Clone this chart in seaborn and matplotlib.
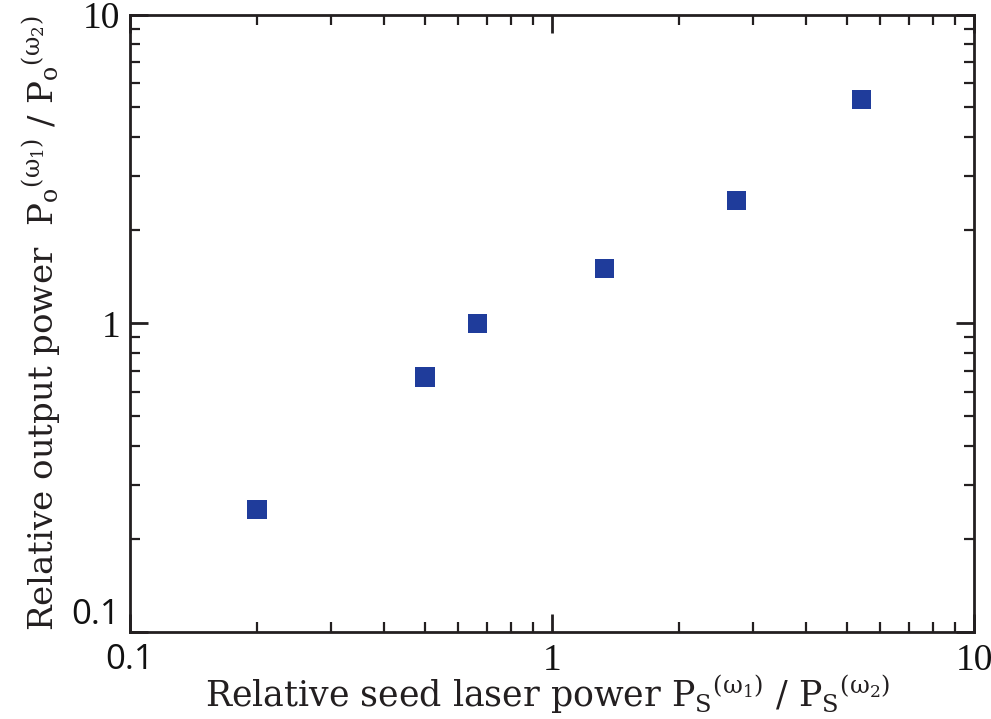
import matplotlib
matplotlib.use("Agg")
import matplotlib.pyplot as plt
import seaborn as sns
import pandas as pd
from matplotlib.ticker import LogLocator, NullFormatter, FixedLocator

# Measured ratios
seed_ratio = [0.2, 0.5, 0.667, 1.33, 2.73, 5.4]
output_ratio = [0.25, 0.67, 1.0, 1.5, 2.5, 5.3]
tick_values = [0.1, 1, 10]
tick_labels = ["0.1", "1", "10"]

sns.set_theme(style="white")
plt.rcParams["font.family"] = ["DejaVu Serif"]
plt.rcParams["mathtext.fontset"] = "custom"
plt.rcParams["mathtext.rm"] = "DejaVu Serif"
plt.rcParams["mathtext.it"] = "DejaVu Serif:italic"

df = pd.DataFrame({"seed": seed_ratio, "out": output_ratio})

fig = plt.figure(figsize=(9.91, 7.19), dpi=100)
ax = fig.add_axes([0.1312, 0.121, 0.8517, 0.8588])

sns.scatterplot(data=df, x="seed", y="out", marker="s", s=190,
                color="#1f3c9b", edgecolor="none", linewidth=0, ax=ax)

ax.set_xscale("log")
ax.set_yscale("log")
ax.set_xlim(0.1, 10)
ax.set_ylim(0.1, 10)

for axis in (ax.xaxis, ax.yaxis):
    axis.set_major_locator(FixedLocator(tick_values))
    axis.set_minor_locator(LogLocator(base=10, subs=range(2, 10)))
    axis.set_minor_formatter(NullFormatter())
ax.set_xticks(tick_values, tick_labels)
ax.set_yticks(tick_values, tick_labels)

ax.tick_params(which="both", bottom=True, left=True, top=True, right=True)
ax.tick_params(which="major", direction="in", length=13, width=2,
               labelsize=27, color="#231f20", labelcolor="#111111")
ax.tick_params(axis="x", which="major", pad=8)
ax.tick_params(axis="y", which="major", pad=7)
ax.tick_params(which="minor", direction="in", length=7, width=1.6,
               color="#231f20")
for lab in ax.get_xticklabels() + ax.get_yticklabels():
    if lab.get_text() == "0.1":
        lab.set_family(["Open Sans", "DejaVu Sans"])
        lab.set_fontsize(25)
    else:
        lab.set_family(["Liberation Serif"])
# lowest y label sits just above the corner
ax.get_yticklabels()[0].set_verticalalignment("bottom")

for sp in ax.spines.values():
    sp.set_linewidth(2)
    sp.set_color("#231f20")

ax.set_xlabel(r"Relative seed laser power $\mathrm{P_S}^{(\mathrm{\omega_1})}$ / $\mathrm{P_S}^{(\mathrm{\omega_2})}$",
              fontsize=25, color="#231f20")
ax.set_ylabel(r"Relative output power  $\mathrm{P_o}^{(\mathrm{\omega_1})}$ / $\mathrm{P_o}^{(\mathrm{\omega_2})}$",
              fontsize=24.5, color="#231f20")
ax.xaxis.set_label_coords(0.495, -0.065)
ax.yaxis.set_label_coords(-0.079, 0.5)

fig.savefig("out.png", dpi=100, facecolor="white")
